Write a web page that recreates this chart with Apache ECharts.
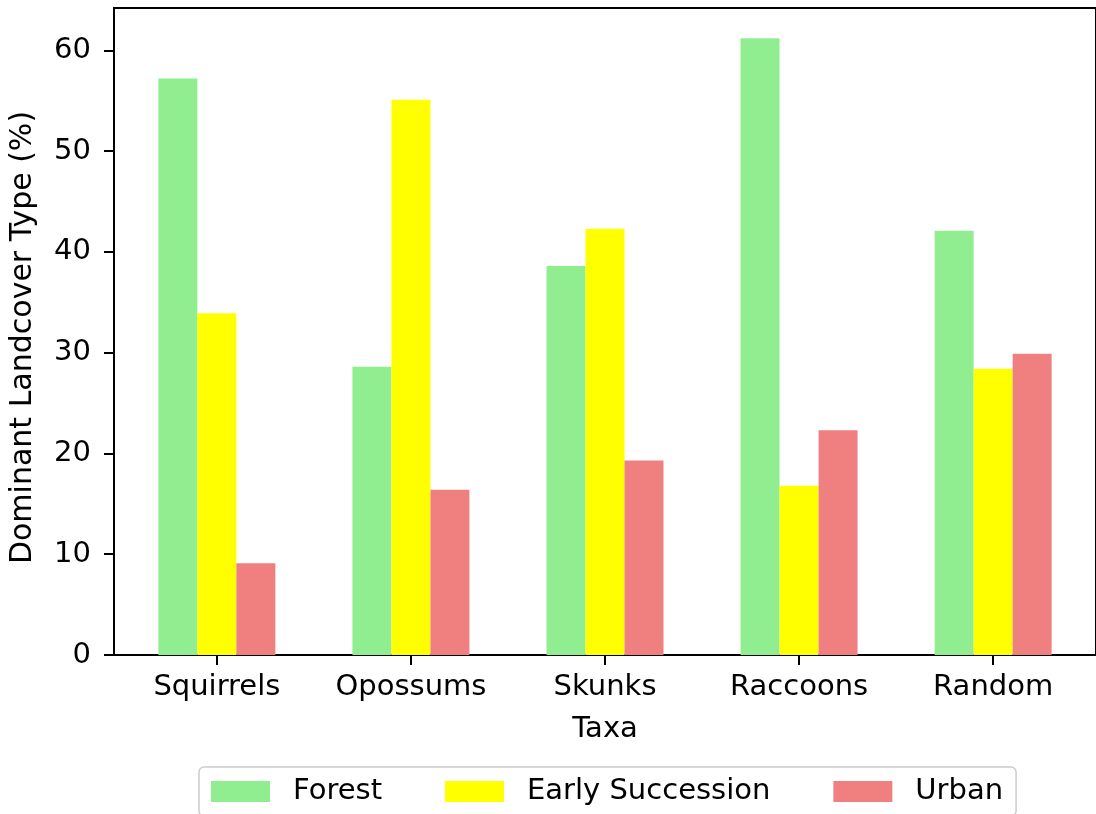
<!DOCTYPE html>
<html>
<head>
<meta charset="utf-8">
<script src="https://cdn.jsdelivr.net/npm/echarts@6/dist/echarts.min.js"></script>
<style>html,body{margin:0;padding:0;background:#fff}#c{width:1096px;height:814px}</style>
</head>
<body>
<div id="c"></div>
<script>
const categories = ['Squirrels', 'Opossums', 'Skunks', 'Raccoons', 'Random'];
const forest = [57.2, 28.6, 38.6, 61.2, 42.1];
const earlySuccession = [33.9, 55.1, 42.3, 16.8, 28.4];
const urban = [9.1, 16.4, 19.3, 22.3, 29.9];
const yTicks = [0, 10, 20, 30, 40, 50, 60];
const xTicks = categories.map((_, i) => i);

const FONT = 'DejaVu Sans';
const FS = 29;
const chart = echarts.init(document.getElementById('c'), null, {renderer: 'canvas'});
const mk = (name, vals, color) => ({
  name, type: 'bar', data: vals.map((v, i) => [i, v]), barWidth: 39, barGap: '0%',
  itemStyle: {color}, emphasis: {disabled: true}
});
chart.setOption({
  animation: false,
  textStyle: {fontFamily: FONT},
  grid: {left: 113, top: 8, right: -7, bottom: 159, show: true, borderColor: '#000', borderWidth: 2, containLabel: false},
  legend: {
    left: 199, top: 767, orient: 'horizontal',
    itemWidth: 59, itemHeight: 21, itemGap: 63,
    padding: [10, 13, 10, 12],
    borderColor: '#cccccc', borderWidth: 1.5, borderRadius: 5,
    icon: 'rect',
    textStyle: {fontFamily: FONT, fontSize: FS, color: '#000', padding: [0, 0, 0, 18]},
    data: ['Forest', 'Early Succession', 'Urban']
  },
  xAxis: {
    type: 'value', min: -0.53, max: 4.53,
    name: 'Taxa', nameLocation: 'middle', nameGap: 60,
    nameTextStyle: {fontFamily: FONT, fontSize: FS, color: '#000'},
    axisLine: {show: true, onZero: false, lineStyle: {color: '#000', width: 2}},
    axisTick: {show: true, length: 10, customValues: xTicks, lineStyle: {color: '#000', width: 2}},
    axisLabel: {fontFamily: FONT, fontSize: FS, color: '#000', margin: 18, customValues: xTicks,
      formatter: v => categories[Math.round(v)] || ''},
    splitLine: {show: false}
  },
  yAxis: {
    type: 'value', min: 0, max: 64.2, interval: 10,
    name: 'Dominant Landcover Type (%)', nameLocation: 'middle', nameGap: 76,
    nameTextStyle: {fontFamily: FONT, fontSize: 30, color: '#000', padding: [0, 12, 0, 0]},
    axisLine: {show: true, onZero: false, lineStyle: {color: '#000', width: 2}},
    axisTick: {show: true, length: 10, customValues: yTicks, lineStyle: {color: '#000', width: 2}},
    axisLabel: {fontFamily: FONT, fontSize: FS, color: '#000', margin: 23, customValues: yTicks},
    splitLine: {show: false}
  },
  series: [
    mk('Forest', forest, '#90EE90'),
    mk('Early Succession', earlySuccession, '#FFFF00'),
    mk('Urban', urban, '#F08080')
  ]
});
</script>
</body>
</html>
